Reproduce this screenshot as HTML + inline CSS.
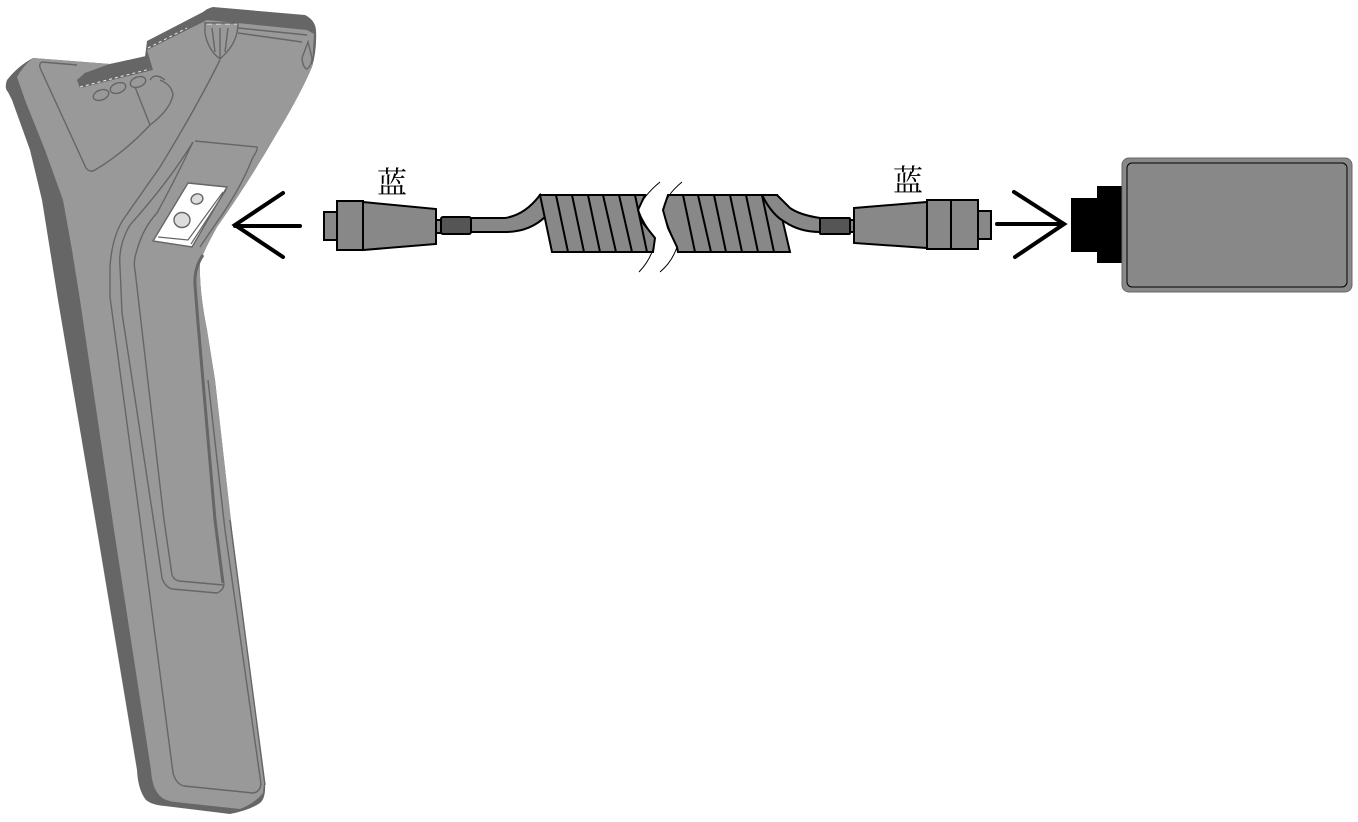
<!DOCTYPE html>
<html><head><meta charset="utf-8"><style>
html,body{margin:0;padding:0;background:#fff}
svg{display:block}
text{font-family:"Liberation Serif","Noto Serif CJK SC",serif;font-size:30px;fill:#000}
</style></head><body>
<svg width="1358" height="822" viewBox="0 0 1358 822" xmlns="http://www.w3.org/2000/svg">
<!-- handle: dark shell -->
<path fill="#666" d="M33,58 Q18,66 7,80 Q4,88 8,92 L12,100 L30,150 L42,200 L50,250 L58,300 L97,530 L137,770 Q138,790 146,800 Q152,805 165,806 L230,814 Q250,810 260,803 Q266,798 265,783 L232,530 L215,380 L207,330 Q199,290 200,263 Q203,252 217,227 Q250,180 277,133 Q300,95 312,67 Q317,50 316,30 Q315,20 305,15 L213,7 Q208,8 203,12 L147,41 L145,57 L110,64 Z"/>
<!-- handle: light face -->
<path fill="#999" d="M33,58 Q24,65 17,77 L25,100 L45,150 L63,200 L72,250 L80,300 L114,530 L151,770 Q152,788 160,796 Q165,801 175,802 L240,809 Q255,803 263,793 L264,783 L232,530 L215,380 L207,330 Q199,290 200,263 Q203,252 217,227 Q250,180 277,133 Q300,95 312,67 L314,34 L307,30 L207,20 L147,50 L153,70 L80,88 L77,80 L85,73 L110,64 Z"/>
<path fill="#666" d="M77,80 L85,73 L110,64 L146,56 L150,68 L80,88 Z"/>
<path fill="none" stroke="#eee" stroke-width="1" stroke-dasharray="3 3" d="M80,87 L150,69 M148,48 L187,28"/>
<path fill="none" stroke="#eee" stroke-width="1" stroke-dasharray="5 4" d="M207,24 L238,24"/>
<!-- inner lines -->
<g fill="none" stroke="#666" stroke-width="1.4">
<path d="M77,65 L42,62 Q38,64 41,70 L86,168 Q90,173 95,170 Q125,152 150,125 Q170,110 173,95 Q172,85 160,80"/>
<path d="M135,87 L150,125"/>
<ellipse cx="101" cy="95" rx="8" ry="5" transform="rotate(-20 101 95)"/>
<ellipse cx="118" cy="88" rx="8" ry="5" transform="rotate(-20 118 88)"/>
<ellipse cx="138" cy="82" rx="8" ry="5" transform="rotate(-20 138 82)"/>
<path d="M150,80 Q155,72 165,80"/>
<path d="M220,60 Q195,110 160,167 L125,217 Q112,235 110,267 L110,297 L140,520 L173,773 Q176,784 184,786 L253,793 Q260,792 261,784 L225,530 L208,380"/>
<path d="M193,142 Q170,180 130,225 Q118,245 120,267 L122,313 L155,530 L162,578 Q165,587 172,589 L217,593 Q224,590 224,583"/>
<path d="M193,142 Q175,180 157,213 Q143,228 137,250 Q133,262 135,270 L164,520 L172,575 Q174,580 179,581 L223,585"/>
<path d="M195,141 L257,147 Q258,150 253,157 Q240,190 217,222 Q208,235 200,247"/>
<path d="M205,23 L238,23 Q238,40 226,53 L220,59 Q208,50 205,33 Z M212,28 L215,52 M220,28 L220,58 M228,28 L225,52"/>
<path d="M238,28 L307,35 M238,33 L302,42"/>
<path d="M308,42 L302,58 Q303,68 307,69 Q312,65 312,58 Z"/>
<path d="M230,520 L265,785"/>
</g>
<path fill="none" stroke="#666" stroke-width="3" d="M203,255 Q194,268 195,285 L198,323 L215,520 L223,583"/>
<!-- plate -->
<path fill="#fff" stroke="#666" stroke-width="1.4" d="M188,183 L227,187 L192,247 L153,241 Z"/>
<path fill="none" stroke="#666" stroke-width="1.2" d="M223,192 L188,240 L158,237 M226,190 L191,244"/>
<ellipse cx="197" cy="199" rx="6" ry="5" fill="#ddd" stroke="#666" stroke-width="1.4" transform="rotate(-20 197 199)"/>
<ellipse cx="182" cy="220" rx="8" ry="7.5" fill="#ddd" stroke="#666" stroke-width="1.4"/>
<!-- arrows -->
<g fill="none" stroke="#000" stroke-width="4" stroke-linecap="round">
<path d="M283,193 L235,225 L283,257 M235,226 L300,226"/>
<path d="M1014,192 L1064,224 L1015,257 M997,224 L1064,224"/>
</g>
<!-- left connector -->
<g stroke="#000" stroke-width="2" fill="#888">
<rect x="324" y="212" width="13" height="28"/>
<rect x="337" y="201" width="26" height="49"/>
<path d="M363,202 L436,209 L436,244 L363,250 Z"/>
<rect x="436" y="220" width="5" height="13"/>
<path d="M470,218 L505,218 Q525,215 540,195 L546,216 Q530,232 505,232 L470,232 Z"/>
<rect x="441" y="217" width="30" height="17" rx="2" fill="#555"/>
<path d="M540,195 L645,195 L638,210 L643,223 L655,238 L653,252 L552,252 Z"/>
<path fill="none" d="M556,195 L568,252 M572,195 L584,252 M588,195 L600,252 M603,195 L616,252 M619,195 L632,252 M635,195 L647,252"/>
</g>
<!-- right connector -->
<g stroke="#000" stroke-width="2" fill="#888">
<path d="M668,195 L777,195 L783,222 L790,252 L678,252 L677,247 L668,228 L663,210 Z"/>
<path fill="none" d="M683,195 L695,252 M698,195 L711,252 M714,195 L726,252 M730,195 L742,252 M746,195 L758,252"/>
<path d="M762,195 Q772,215 785,222 Q800,232 820,232 L820,218 Q800,215 790,208 L777,195 Z"/>
<path fill="none" d="M762,195 L774,252"/>
<rect x="820" y="218" width="30" height="16" rx="1" fill="#555"/>
<rect x="850" y="220" width="5" height="12"/>
<path d="M854,208 L927,202 L927,248 L854,243 Z"/>
<rect x="927" y="200" width="24" height="49"/>
<rect x="951" y="200" width="27" height="49"/>
<rect x="978" y="211" width="13" height="28"/>
</g>
<!-- break lines -->
<g fill="none" stroke="#000" stroke-width="1">
<path d="M660,182 Q643,196 638,210 Q645,226 655,238 Q654,256 639,272"/>
<path d="M682,182 Q665,196 663,210 Q668,228 677,247 Q672,262 660,272"/>
</g>
<!-- box -->
<rect x="1071" y="198" width="27" height="54" fill="#000"/>
<rect x="1097" y="186" width="26" height="77" fill="#000"/>
<rect x="1122" y="158" width="230" height="134" rx="7" fill="#888" stroke="#666" stroke-width="1"/>
<rect x="1127" y="163" width="220" height="124" rx="5" fill="#888" stroke="#000" stroke-width="1"/>
<text x="377" y="193">蓝</text>
<text x="893" y="191">蓝</text>
</svg>
</body></html>
